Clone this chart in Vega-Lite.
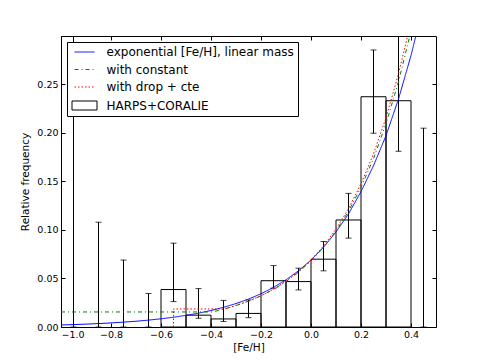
{
  "$schema": "https://vega.github.io/schema/vega-lite/v6.json",
  "width": 375,
  "height": 291,
  "autosize": {"type": "none"},
  "padding": {"left": 61, "top": 36, "right": 49, "bottom": 37},
  "background": "white",
  "config": {
    "font": "DejaVu Sans",
    "view": {"stroke": "black", "strokeWidth": 1},
    "axis": {
      "domain": false,
      "grid": false,
      "ticks": true,
      "tickColor": "black",
      "tickSize": -4,
      "labelColor": "black",
      "labelFont": "DejaVu Sans",
      "labelFontSize": 9.5,
      "titleColor": "black",
      "titleFont": "DejaVu Sans",
      "titleFontSize": 10.5,
      "titleFontWeight": "normal"
    }
  },
  "datasets": {
    "bars": [
      {"lo": -0.6, "hi": -0.5, "freq": 0.0386},
      {"lo": -0.5, "hi": -0.4, "freq": 0.0122},
      {"lo": -0.4, "hi": -0.3, "freq": 0.0083},
      {"lo": -0.3, "hi": -0.2, "freq": 0.014},
      {"lo": -0.2, "hi": -0.1, "freq": 0.0477},
      {"lo": -0.1, "hi": 0.0, "freq": 0.0468},
      {"lo": 0.0, "hi": 0.1, "freq": 0.0699},
      {"lo": 0.1, "hi": 0.2, "freq": 0.1103},
      {"lo": 0.2, "hi": 0.3, "freq": 0.2373},
      {"lo": 0.3, "hi": 0.4, "freq": 0.2332}
    ],
    "errs": [
      {"x": -0.95, "lo": 0, "hi": 0.36},
      {"x": -0.85, "lo": 0, "hi": 0.108},
      {"x": -0.75, "lo": 0, "hi": 0.069},
      {"x": -0.65, "lo": 0, "hi": 0.0345},
      {"x": -0.55, "lo": 0.0262, "hi": 0.0864},
      {"x": -0.45, "lo": 0.009, "hi": 0.0396},
      {"x": -0.35, "lo": 0.0057, "hi": 0.0274},
      {"x": -0.25, "lo": 0.0096, "hi": 0.0279},
      {"x": -0.15, "lo": 0.04, "hi": 0.0633},
      {"x": -0.05, "lo": 0.0382, "hi": 0.0606},
      {"x": 0.05, "lo": 0.0579, "hi": 0.0881},
      {"x": 0.15, "lo": 0.0916, "hi": 0.1377},
      {"x": 0.25, "lo": 0.1997, "hi": 0.2855},
      {"x": 0.35, "lo": 0.1811, "hi": 0.36},
      {"x": 0.45, "lo": 0, "hi": 0.2049}
    ],
    "curves": [
      {"s": "exponential [Fe/H], linear mass", "i": 1, "x": -1.0, "y": 0.00208},
      {"s": "exponential [Fe/H], linear mass", "i": 2, "x": -0.95, "y": 0.00248},
      {"s": "exponential [Fe/H], linear mass", "i": 3, "x": -0.9, "y": 0.00296},
      {"s": "exponential [Fe/H], linear mass", "i": 4, "x": -0.85, "y": 0.00352},
      {"s": "exponential [Fe/H], linear mass", "i": 5, "x": -0.8, "y": 0.0042},
      {"s": "exponential [Fe/H], linear mass", "i": 6, "x": -0.75, "y": 0.005},
      {"s": "exponential [Fe/H], linear mass", "i": 7, "x": -0.7, "y": 0.00595},
      {"s": "exponential [Fe/H], linear mass", "i": 8, "x": -0.65, "y": 0.00709},
      {"s": "exponential [Fe/H], linear mass", "i": 9, "x": -0.6, "y": 0.00845},
      {"s": "exponential [Fe/H], linear mass", "i": 10, "x": -0.55, "y": 0.01007},
      {"s": "exponential [Fe/H], linear mass", "i": 11, "x": -0.5, "y": 0.01199},
      {"s": "exponential [Fe/H], linear mass", "i": 12, "x": -0.45, "y": 0.01428},
      {"s": "exponential [Fe/H], linear mass", "i": 13, "x": -0.4, "y": 0.01701},
      {"s": "exponential [Fe/H], linear mass", "i": 14, "x": -0.35, "y": 0.02027},
      {"s": "exponential [Fe/H], linear mass", "i": 15, "x": -0.3, "y": 0.02415},
      {"s": "exponential [Fe/H], linear mass", "i": 16, "x": -0.25, "y": 0.02876},
      {"s": "exponential [Fe/H], linear mass", "i": 17, "x": -0.2, "y": 0.03426},
      {"s": "exponential [Fe/H], linear mass", "i": 18, "x": -0.15, "y": 0.04082},
      {"s": "exponential [Fe/H], linear mass", "i": 19, "x": -0.1, "y": 0.04862},
      {"s": "exponential [Fe/H], linear mass", "i": 20, "x": -0.05, "y": 0.05793},
      {"s": "exponential [Fe/H], linear mass", "i": 21, "x": 0.0, "y": 0.069},
      {"s": "exponential [Fe/H], linear mass", "i": 22, "x": 0.05, "y": 0.0822},
      {"s": "exponential [Fe/H], linear mass", "i": 23, "x": 0.1, "y": 0.0979},
      {"s": "exponential [Fe/H], linear mass", "i": 24, "x": 0.15, "y": 0.1166},
      {"s": "exponential [Fe/H], linear mass", "i": 25, "x": 0.2, "y": 0.1395},
      {"s": "exponential [Fe/H], linear mass", "i": 26, "x": 0.25, "y": 0.1662},
      {"s": "exponential [Fe/H], linear mass", "i": 27, "x": 0.3, "y": 0.1972},
      {"s": "exponential [Fe/H], linear mass", "i": 28, "x": 0.35, "y": 0.2349},
      {"s": "exponential [Fe/H], linear mass", "i": 29, "x": 0.4, "y": 0.2798},
      {"s": "exponential [Fe/H], linear mass", "i": 30, "x": 0.43, "y": 0.311},
      {"s": "with constant", "i": 1, "x": -1.0, "y": 0.0155},
      {"s": "with constant", "i": 2, "x": -0.395, "y": 0.0155},
      {"s": "with constant", "i": 3, "x": -0.35, "y": 0.0183},
      {"s": "with constant", "i": 4, "x": -0.3, "y": 0.0221},
      {"s": "with constant", "i": 5, "x": -0.25, "y": 0.0266},
      {"s": "with constant", "i": 6, "x": -0.2, "y": 0.0321},
      {"s": "with constant", "i": 7, "x": -0.15, "y": 0.0387},
      {"s": "with constant", "i": 8, "x": -0.1, "y": 0.0467},
      {"s": "with constant", "i": 9, "x": -0.05, "y": 0.0564},
      {"s": "with constant", "i": 10, "x": 0.0, "y": 0.068},
      {"s": "with constant", "i": 11, "x": 0.05, "y": 0.082},
      {"s": "with constant", "i": 12, "x": 0.1, "y": 0.0989},
      {"s": "with constant", "i": 13, "x": 0.15, "y": 0.1193},
      {"s": "with constant", "i": 14, "x": 0.2, "y": 0.144},
      {"s": "with constant", "i": 15, "x": 0.25, "y": 0.1736},
      {"s": "with constant", "i": 16, "x": 0.3, "y": 0.2095},
      {"s": "with constant", "i": 17, "x": 0.35, "y": 0.2527},
      {"s": "with constant", "i": 18, "x": 0.4, "y": 0.305},
      {"s": "with drop + cte", "i": 1, "x": -0.55, "y": 0.0},
      {"s": "with drop + cte", "i": 2, "x": -0.55, "y": 0.0186},
      {"s": "with drop + cte", "i": 3, "x": -0.345, "y": 0.0186},
      {"s": "with drop + cte", "i": 4, "x": -0.3, "y": 0.0221},
      {"s": "with drop + cte", "i": 5, "x": -0.25, "y": 0.0267},
      {"s": "with drop + cte", "i": 6, "x": -0.2, "y": 0.0323},
      {"s": "with drop + cte", "i": 7, "x": -0.15, "y": 0.039},
      {"s": "with drop + cte", "i": 8, "x": -0.1, "y": 0.0472},
      {"s": "with drop + cte", "i": 9, "x": -0.05, "y": 0.0571},
      {"s": "with drop + cte", "i": 10, "x": 0.0, "y": 0.069},
      {"s": "with drop + cte", "i": 11, "x": 0.05, "y": 0.0834},
      {"s": "with drop + cte", "i": 12, "x": 0.1, "y": 0.1009},
      {"s": "with drop + cte", "i": 13, "x": 0.15, "y": 0.122},
      {"s": "with drop + cte", "i": 14, "x": 0.2, "y": 0.1475},
      {"s": "with drop + cte", "i": 15, "x": 0.25, "y": 0.1784},
      {"s": "with drop + cte", "i": 16, "x": 0.3, "y": 0.2157},
      {"s": "with drop + cte", "i": 17, "x": 0.35, "y": 0.2609},
      {"s": "with drop + cte", "i": 18, "x": 0.39, "y": 0.3037}
    ]
  },
  "resolve": {"axis": {"x": "independent", "y": "independent"}},
  "layer": [
    {
      "data": {"name": "bars"},
      "mark": {"type": "rect", "fill": "transparent", "stroke": "black", "strokeWidth": 1, "clip": true},
      "encoding": {
        "x": {
          "field": "lo", "type": "quantitative",
          "scale": {"domain": [-1, 0.5], "nice": false, "zero": false},
          "axis": {"orient": "bottom", "values": [-1, -0.8, -0.6, -0.4, -0.2, 0, 0.2, 0.4], "format": ".1f", "title": "[Fe/H]", "labelPadding": 6, "titlePadding": 4}
        },
        "x2": {"field": "hi"},
        "y": {
          "field": "freq", "type": "quantitative",
          "scale": {"domain": [0, 0.2999], "nice": false, "zero": true},
          "axis": {"orient": "left", "values": [0, 0.05, 0.1, 0.15, 0.2, 0.25], "format": ".2f", "title": "Relative frequency", "labelPadding": 7, "titlePadding": 6}
        },
        "y2": {"datum": 0}
      }
    },
    {
      "data": {"name": "errs"},
      "mark": {"type": "rule", "color": "black", "strokeWidth": 1, "clip": true},
      "encoding": {
        "x": {"field": "x", "type": "quantitative", "axis": null},
        "y": {"field": "lo", "type": "quantitative", "axis": null},
        "y2": {"field": "hi"}
      }
    },
    {
      "data": {"name": "errs"},
      "mark": {"type": "tick", "orient": "horizontal", "size": 6, "thickness": 1, "color": "black", "opacity": 0.75, "clip": true},
      "encoding": {
        "x": {"field": "x", "type": "quantitative", "axis": null},
        "y": {"field": "lo", "type": "quantitative", "axis": null}
      }
    },
    {
      "data": {"name": "errs"},
      "mark": {"type": "tick", "orient": "horizontal", "size": 6, "thickness": 1, "color": "black", "opacity": 0.75, "clip": true},
      "encoding": {
        "x": {"field": "x", "type": "quantitative", "axis": null},
        "y": {"field": "hi", "type": "quantitative", "axis": null}
      }
    },
    {
      "data": {"name": "curves"},
      "mark": {"type": "line", "strokeWidth": 1, "clip": true},
      "encoding": {
        "x": {"field": "x", "type": "quantitative", "axis": {"orient": "top", "values": [-1, -0.8, -0.6, -0.4, -0.2, 0, 0.2, 0.4], "labels": false, "title": null}},
        "y": {"field": "y", "type": "quantitative", "axis": {"orient": "right", "values": [0, 0.05, 0.1, 0.15, 0.2, 0.25], "labels": false, "title": null}},
        "order": {"field": "i", "type": "quantitative"},
        "stroke": {
          "field": "s", "type": "nominal",
          "scale": {
            "domain": ["exponential [Fe/H], linear mass", "with constant", "with drop + cte", "HARPS+CORALIE"],
            "range": ["#0000ff", "#008000", "#ff0000", "black"]
          },
          "legend": {
            "title": null,
            "orient": "none",
            "legendX": 6,
            "legendY": 6,
            "padding": 4,
            "fillColor": "white",
            "strokeColor": "black",
            "labelFont": "DejaVu Sans",
            "labelFontSize": 12,
            "labelColor": "black",
            "labelLimit": 400,
            "labelOffset": 16,
            "symbolOffset": 7.5,
            "symbolSize": 100,
            "rowPadding": 5.5,
            "encode": {
              "symbols": {
                "update": {
                  "shape": {"signal": "datum.value === 'HARPS+CORALIE' ? 'M-2.5,-0.9H2.5V0.9H-2.5Z' : 'M-2,0H2'"},
                  "strokeDash": {"signal": "datum.value === 'with constant' ? [4,3,1,3] : datum.value === 'with drop + cte' ? [1.5,2] : [1,0]"},
                  "fill": {"value": "transparent"},
                  "strokeWidth": {"value": 1},
                  "opacity": {"value": 1}
                }
              }
            }
          }
        },
        "strokeDash": {
          "field": "s", "type": "nominal", "legend": null,
          "scale": {
            "domain": ["exponential [Fe/H], linear mass", "with constant", "with drop + cte", "HARPS+CORALIE"],
            "range": [[1, 0], [4, 3, 1, 3], [1.5, 2], [1, 0]]
          }
        }
      }
    }
  ]
}
